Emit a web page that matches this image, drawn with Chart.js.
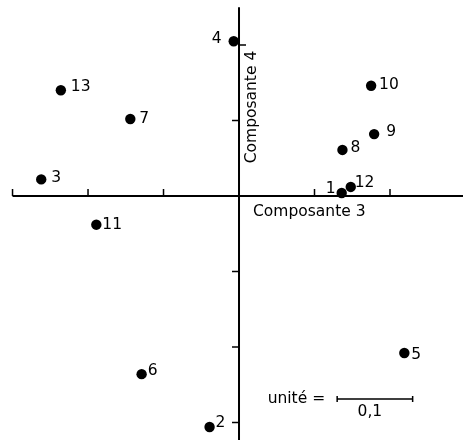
<!DOCTYPE html>
<html><head><meta charset="utf-8">
<script src="https://cdn.jsdelivr.net/npm/chart.js@4"></script>
<style>html,body{margin:0;padding:0;background:#fff}#wrap{width:463px;height:440px;position:relative}</style>
</head><body><div id="wrap"><canvas id="c"></canvas></div>
<script>
// ---- data ----
const pointLabels = ['1','2','3','4','5','6','7','8','9','10','11','12','13'];
const comp3 = [0.136, -0.039, -0.262, -0.007, 0.219, -0.129, -0.144, 0.137, 0.179, 0.175, -0.189, 0.148, -0.236];
const comp4 = [0.004, -0.306, 0.022, 0.205, -0.208, -0.236, 0.102, 0.061, 0.082, 0.146, -0.038, 0.012, 0.140];
const xTicks = [-0.3, -0.2, -0.1, 0.1, 0.2];
const yTicks = [0.2, 0.1, -0.1, -0.2, -0.3];
const xTitle = 'Composante 3';
const yTitle = 'Composante 4';
const unitText = 'unité =';
const unitValueText = '0,1';
const unitLength = 0.1;

// ---- styling / placement (not data) ----
const FONT = '15.5px "DejaVu Sans", sans-serif';
const labelPlace = [
  {dx:-6, dy:-4, align:'right'}, {dx:6, dy:-4, align:'left'}, {dx:10, dy:-1, align:'left'},
  {dx:-12, dy:-2, align:'right'}, {dx:7, dy:2, align:'left'}, {dx:6, dy:-3, align:'left'},
  {dx:9, dy:0, align:'left'}, {dx:8, dy:-2, align:'left'}, {dx:12, dy:-2, align:'left'},
  {dx:8, dy:-1, align:'left'}, {dx:6, dy:0, align:'left'}, {dx:4, dy:-4, align:'left'},
  {dx:10, dy:-3, align:'left'}
];
const yTickSide = [1, -1, -1, -1, -1];

const points = comp3.map((x, i) => ({x, y: comp4[i]}));

const axesPlugin = {
  id: 'crossAxes',
  beforeDatasetsDraw(chart) {
    const {ctx, chartArea, scales: {x, y}} = chart;
    const x0 = x.getPixelForValue(0), y0 = y.getPixelForValue(0);
    ctx.save();
    ctx.strokeStyle = '#000';
    ctx.lineWidth = 2;
    ctx.beginPath();
    ctx.moveTo(x.getPixelForValue(-0.3), y0);
    ctx.lineTo(chartArea.right, y0);
    ctx.moveTo(x0, y.getPixelForValue(0.25));
    ctx.lineTo(x0, chartArea.bottom);
    ctx.stroke();
    ctx.lineWidth = 1.5;
    ctx.beginPath();
    xTicks.forEach(t => { const px = x.getPixelForValue(t); ctx.moveTo(px, y0); ctx.lineTo(px, y0 - 7); });
    yTicks.forEach((t, i) => { const py = y.getPixelForValue(t); ctx.moveTo(x0, py); ctx.lineTo(x0 + 7 * yTickSide[i], py); });
    ctx.stroke();

    ctx.fillStyle = '#000';
    ctx.font = FONT;
    ctx.textBaseline = 'middle';
    ctx.textAlign = 'left';
    ctx.fillText(xTitle, x0 + 14, y0 + 16);
    ctx.save();
    ctx.translate(x0 + 13, y0 - 89);
    ctx.rotate(-Math.PI / 2);
    ctx.textAlign = 'center';
    ctx.fillText(yTitle, 0, 0);
    ctx.restore();

    // unit bar
    const ux1 = x.getPixelForValue(0.13), ux2 = x.getPixelForValue(0.13 + unitLength);
    const uy = y.getPixelForValue(-0.269);
    ctx.lineWidth = 1.5;
    ctx.beginPath();
    ctx.moveTo(ux1, uy); ctx.lineTo(ux2, uy);
    ctx.moveTo(ux1, uy - 3); ctx.lineTo(ux1, uy + 3);
    ctx.moveTo(ux2, uy - 3); ctx.lineTo(ux2, uy + 3);
    ctx.stroke();
    ctx.textAlign = 'right';
    ctx.fillText(unitText, ux1 - 12, uy);
    ctx.textAlign = 'center';
    ctx.fillText(unitValueText, (ux1 + ux2) / 2 - 5, uy + 13);
    ctx.restore();
  },
  afterDatasetsDraw(chart) {
    const {ctx} = chart;
    const meta = chart.getDatasetMeta(0);
    ctx.save();
    ctx.fillStyle = '#000';
    ctx.font = FONT;
    ctx.textBaseline = 'middle';
    meta.data.forEach((el, i) => {
      const p = labelPlace[i];
      ctx.textAlign = p.align;
      ctx.fillText(pointLabels[i], el.x + p.dx, el.y + p.dy);
    });
    ctx.restore();
  }
};

new Chart(document.getElementById('c'), {
  type: 'scatter',
  data: { datasets: [{ data: points, backgroundColor: '#000', borderWidth: 0, pointRadius: 5.2 }] },
  options: {
    responsive: true,
    maintainAspectRatio: false,
    animation: false,
    layout: { padding: 0, autoPadding: false },
    plugins: { legend: { display: false }, tooltip: { enabled: false } },
    scales: {
      x: { type: 'linear', min: -0.3166, max: 0.2967, display: false },
      y: { type: 'linear', min: -0.3232, max: 0.2596, display: false }
    }
  },
  plugins: [axesPlugin]
});
</script>
</body></html>
